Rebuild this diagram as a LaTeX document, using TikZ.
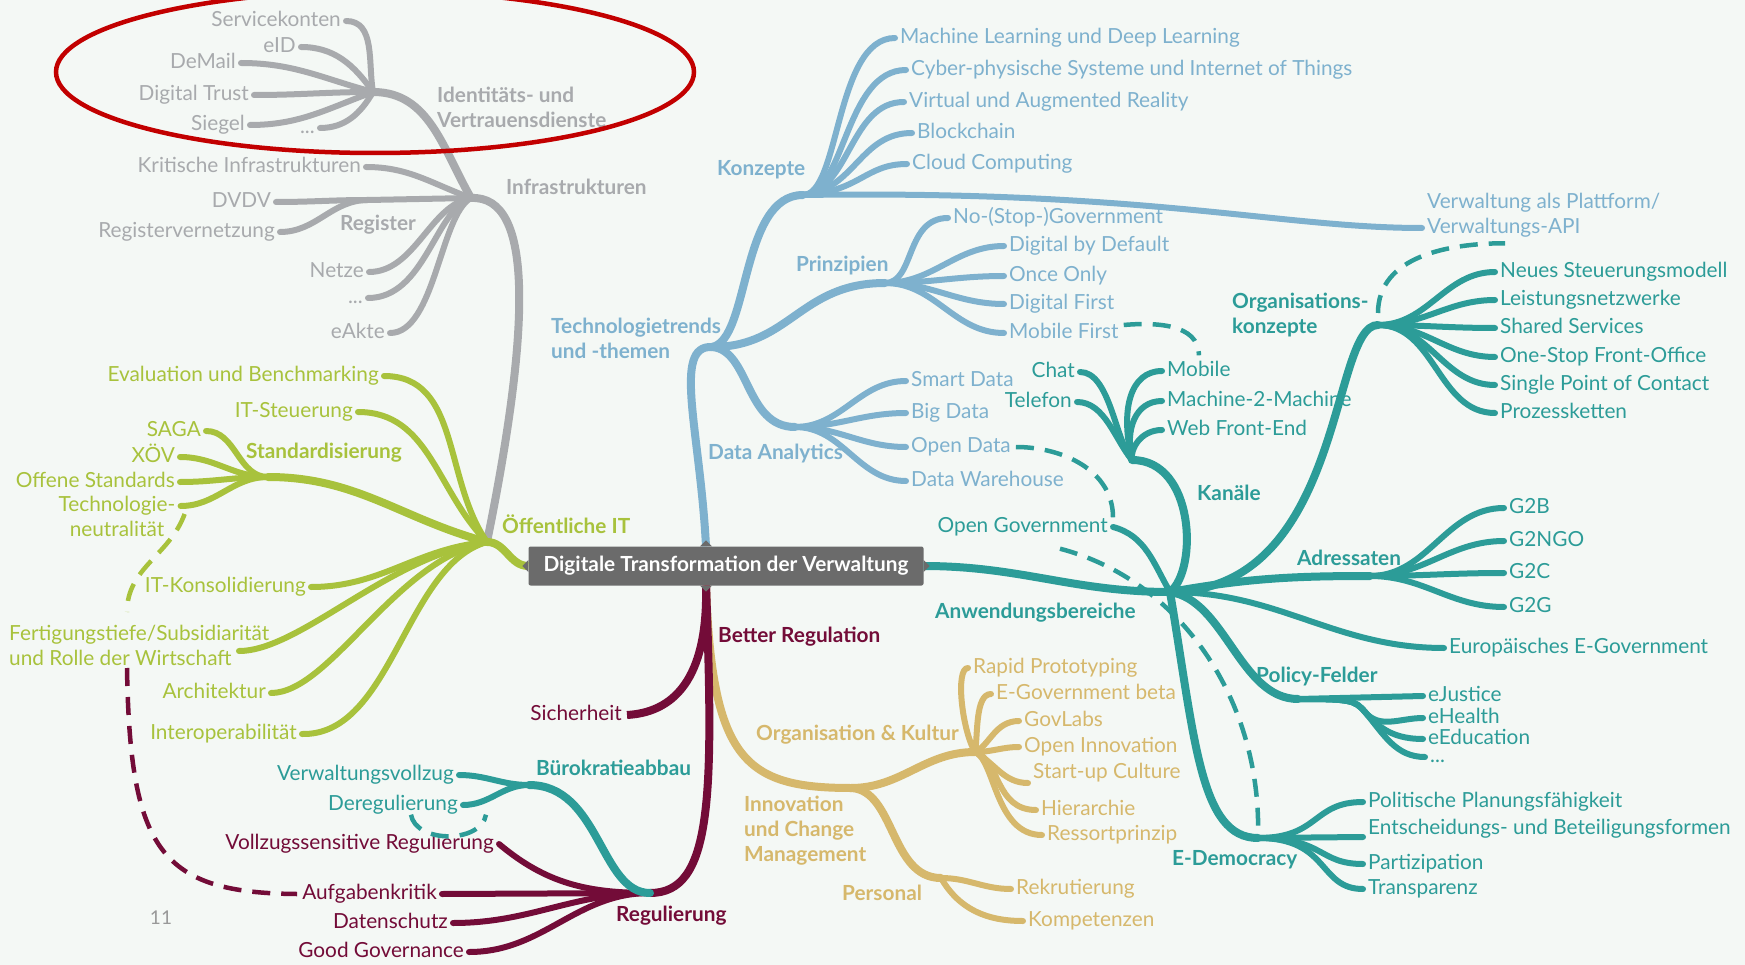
\documentclass[tikz,border=0pt]{standalone}
\usepackage{fontspec}
\setmainfont{Lato}
\usetikzlibrary{calc}
\definecolor{mint}{HTML}{F4F8F5}
\definecolor{mmgrey}{HTML}{A8AAAD}
\definecolor{mmgreen}{HTML}{A8C23C}
\definecolor{mmblue}{HTML}{7EB1CE}
\definecolor{mmteal}{HTML}{2C9C98}
\definecolor{mmmaroon}{HTML}{730C38}
\definecolor{mmgold}{HTML}{D6B86C}
\definecolor{boxgrey}{HTML}{6B6B6B}
\definecolor{ringred}{HTML}{C20000}
\newcommand{\leaffont}{\fontsize{20.8}{25}\selectfont}
\tikzset{
    % Nodes
    leaf/.style={font=\leaffont, inner xsep=5pt, inner ysep=0pt, text height=15pt, text depth=4pt},
    leaflines/.style={font=\leaffont, inner xsep=5pt, inner ysep=0pt, align=left},
    topic/.style={font=\leaffont\bfseries, inner sep=0pt, align=left},
    centre box/.style={fill=boxgrey, text=white, font=\leaffont\bfseries, minimum width=395pt, minimum height=39pt, rounded corners=2pt, inner sep=0pt},
    %
    % Branches
    branch/.style={line width=6pt, line cap=round},
    trunk/.style={line width=8pt, line cap=round},
    link/.style={line width=4.5pt, dash pattern=on 18pt off 11pt},
    ring/.style={ringred, line width=4.5pt}
}

\begin{document}
\begin{tikzpicture}[x=1pt, y=1pt]
    \fill[mint] (0,0) rectangle (1745,-965);
    \useasboundingbox (0,0) rectangle (1745,-965);

    % junctions
    \coordinate (idj) at (373,-92);
    \coordinate (infj) at (471,-198);
    \coordinate (regj) at (368,-200);
    \coordinate (oitj) at (487,-542);
    \coordinate (stdj) at (268,-477);
    \coordinate (techj) at (712,-347);
    \coordinate (konzj) at (803,-195);
    \coordinate (prinj) at (885,-283);
    \coordinate (daj) at (795,-427);
    \coordinate (anwj) at (1170,-592);
    \coordinate (kanj) at (1132,-460);
    \coordinate (orgj) at (1378,-325);
    \coordinate (adrj) at (1370,-576);
    \coordinate (polj) at (1298,-699);
    \coordinate (edemj) at (1258,-838);
    \coordinate (reguj) at (650,-893);
    \coordinate (burj) at (529,-785);
    \coordinate (icmj) at (851,-788);
    \coordinate (okj) at (975,-752);
    \coordinate (persj) at (941,-878);

    \node[centre box] (dtv) at (726,-566) {Digitale Transformation der Verwaltung};
    \coordinate (dtvtop) at ($(dtv.north)+(-20,0)$);
    \coordinate (dtvbot) at ($(dtv.south)+(-20,0)$);

    % Infrastrukturen
    \begin{scope}[mmgrey]
        \node[leaf, anchor=east] (servkont) at (346,-21) {Servicekonten};
        \node[leaf, anchor=east] (eid) at (301,-47) {eID};
        \node[leaf, anchor=east] (demail) at (241,-63) {DeMail};
        \node[leaf, anchor=east] (dtrust) at (254,-95) {Digital Trust};
        \node[leaf, anchor=east] (siegel) at (250,-125) {Siegel};
        \node[leaf, anchor=east] (iddots) at (320,-128) {...};
        \node[topic, anchor=west] (identlbl) at (437,-107) {Identitäts- und\\Vertrauensdienste};
        \node[leaf, anchor=east] (kritinf) at (366,-167) {Kritische Infrastrukturen};
        \node[leaf, anchor=east] (dvdv) at (276,-202) {DVDV};
        \node[leaf, anchor=east] (regvern) at (280,-232) {Registervernetzung};
        \node[topic, anchor=west] (reglbl) at (340,-225) {Register};
        \node[leaf, anchor=east] (netze) at (369,-272) {Netze};
        \node[leaf, anchor=east] (infdots) at (368,-298) {...};
        \node[leaf, anchor=east] (eakte) at (390,-333) {eAkte};
        \node[topic, anchor=west] (inflbl) at (506,-187) {Infrastrukturen};
        \draw[branch] (idj) to[out=100,in=0] (servkont.east);
        \draw[branch] (idj) to[out=125,in=0] (eid.east);
        \draw[branch] (idj) to[out=165,in=0] (demail.east);
        \draw[branch] (idj) to[out=180,in=0] (dtrust.east);
        \draw[branch] (idj) to[out=200,in=0] (siegel.east);
        \draw[branch] (idj) to[out=240,in=0] (iddots.east);
        \draw[branch] (infj) to[out=160,in=0] (kritinf.east);
        \draw[branch] (infj) -- (regj);
        \draw[branch] (regj) to[out=180,in=0] (dvdv.east);
        \draw[branch] (regj) to[out=180,in=0] (regvern.east);
        \draw[branch] (infj) .. controls (430,-205) and (415,-272) .. (netze.east);
        \draw[branch] (infj) .. controls (435,-210) and (425,-298) .. (infdots.east);
        \draw[branch] (infj) .. controls (440,-215) and (435,-333) .. (eakte.east);
        \draw[trunk] (idj) to[out=0,in=120] (infj);
        \draw[trunk] (oitj) .. controls (530,-330) and (535,-195) .. (infj);
    \end{scope}

    % Oeffentliche IT
    \begin{scope}[mmgreen]
        \node[topic, anchor=west] (oitlbl) at (502,-524) {Öffentliche IT};
        \node[leaf, anchor=east] (evalb) at (384,-376) {Evaluation und Benchmarking};
        \node[leaf, anchor=east] (itst) at (358,-412) {IT-Steuerung};
        \node[topic, anchor=west] (stdlbl) at (246,-453) {Standardisierung};
        \node[leaf, anchor=east] (saga) at (206,-431) {SAGA};
        \node[leaf, anchor=east] (xoev) at (180,-457) {XÖV};
        \node[leaf, anchor=east] (offstd) at (180,-482) {Offene Standards};
        \node[leaflines, align=center, anchor=north] (techneu) at (117,-496) {Technologie-\\neutralität};
        \node[leaf, anchor=east] (itkons) at (311,-587) {IT-Konsolidierung};
        \node[leaflines, anchor=west] (fertig) at (4,-645) {Fertigungstiefe/Subsidiarität\\und Rolle der Wirtschaft};
        \node[leaf, anchor=east] (archi) at (271,-693) {Architektur};
        \node[leaf, anchor=east] (interop) at (302,-734) {Interoperabilität};
        \draw[trunk, line cap=butt] (oitj) to[out=0,in=180] (dtv.west);
        \draw[branch] (oitj) to[out=125,in=0] (evalb.east);
        \draw[branch] (oitj) to[out=135,in=0] (itst.east);
        \draw[trunk] (oitj) to[out=165,in=0] (stdj);
        \draw[branch] (stdj) to[out=180,in=0] (saga.east);
        \draw[branch] (stdj) to[out=180,in=0] (xoev.east);
        \draw[branch] (stdj) to[out=180,in=0] (offstd.east);
        \draw[branch] (stdj) to[out=180,in=0] ($(techneu.north east)+(0,-10)$);
        \draw[branch] (oitj) to[out=185,in=0] (itkons.east);
        \draw[branch] (oitj) .. controls (390,-555) and (300,-651) .. ($(fertig.west)+(235,-6)$);
        \draw[branch] (oitj) .. controls (395,-560) and (330,-693) .. (archi.east);
        \draw[branch] (oitj) .. controls (405,-565) and (392,-736) .. (interop.east);
        \coordinate (dashg) at (127,-612);
        \draw[link] ($(techneu.north east)+(4,-18)$) to[out=250,in=90] (dashg);
    \end{scope}

    % Technologietrends
    \begin{scope}[mmblue]
        \node[topic, anchor=west] (techlbl) at (551,-338) {Technologietrends\\und -themen};
        \node[topic, anchor=west] (konzlbl) at (717,-170) {Konzepte};
        \node[leaf, anchor=west] (ml) at (895,-38) {Machine Learning und Deep Learning};
        \node[leaf, anchor=west] (cps) at (906,-70) {Cyber-physische Systeme und Internet of Things};
        \node[leaf, anchor=west] (vr) at (904,-102) {Virtual und Augmented Reality};
        \node[leaf, anchor=west] (bc) at (912,-133) {Blockchain};
        \node[leaf, anchor=west] (cc) at (907,-164) {Cloud Computing};
        \node[leaflines, anchor=west] (plat) at (1422,-215) {Verwaltung als Plattform/\\Verwaltungs-API};
        \node[topic, anchor=west] (prinlbl) at (796,-266) {Prinzipien};
        \node[leaf, anchor=west] (nostop) at (948,-218) {No-(Stop-)Government};
        \node[leaf, anchor=west] (dbd) at (1004,-246) {Digital by Default};
        \node[leaf, anchor=west] (once) at (1004,-276) {Once Only};
        \node[leaf, anchor=west] (dfirst) at (1004,-304) {Digital First};
        \node[leaf, anchor=west] (mfirst) at (1004,-333) {Mobile First};
        \node[topic, anchor=west] (dalbl) at (708,-454) {Data Analytics};
        \node[leaf, anchor=west] (smart) at (906,-381) {Smart Data};
        \node[leaf, anchor=west] (big) at (906,-413) {Big Data};
        \node[leaf, anchor=west] (odata) at (906,-447) {Open Data};
        \node[leaf, anchor=west] (dwh) at (906,-481) {Data Warehouse};
        \draw[trunk, line cap=butt] (dtvtop) .. controls (700,-430) and (672,-345) .. (techj);
        \draw[trunk] (techj) .. controls (750,-340) and (740,-195) .. (konzj);
        \draw[branch] (konzj) .. controls (840,-195) and (835,-38) .. (ml.west);
        \draw[branch] (konzj) .. controls (845,-195) and (845,-70) .. (cps.west);
        \draw[branch] (konzj) .. controls (850,-190) and (850,-102) .. (vr.west);
        \draw[branch] (konzj) .. controls (855,-190) and (860,-133) .. (bc.west);
        \draw[branch] (konzj) .. controls (860,-192) and (865,-164) .. (cc.west);
        \draw[branch] (konzj) .. controls (1150,-190) and (1280,-228) .. ([yshift=-13pt]plat.west);
        \draw[trunk] (techj) .. controls (790,-347) and (800,-283) .. (prinj);
        \draw[branch] (prinj) .. controls (915,-283) and (905,-218) .. (nostop.west);
        \foreach \n in {dbd,once,dfirst,mfirst}
            \draw[branch] (prinj) to[out=0,in=180] (\n.west);
        \draw[trunk] (techj) .. controls (750,-350) and (745,-427) .. (daj);
        \foreach \n in {smart,big,odata,dwh}
            \draw[branch] (daj) to[out=0,in=180] (\n.west);
    \end{scope}

    % Anwendungsbereiche
    \begin{scope}[mmteal]
        \node[topic, anchor=west] (anwlbl) at (935,-613) {Anwendungsbereiche};
        \node[topic, anchor=west] (kanlbl) at (1197,-493) {Kanäle};
        \node[leaf, anchor=east] (chat) at (1080,-372) {Chat};
        \node[leaf, anchor=east] (tel) at (1077,-402) {Telefon};
        \node[leaf, anchor=west] (mobile) at (1162,-371) {Mobile};
        \node[leaf, anchor=west] (m2m) at (1162,-401) {Machine-2-Machine};
        \node[leaf, anchor=west] (web) at (1162,-430) {Web Front-End};
        \node[leaf, anchor=east] (opengov) at (1113,-527) {Open Government};
        \node[topic, anchor=west] (orglbl) at (1232,-315) {Organisations-\\konzepte};
        \node[leaf, anchor=west] (nsm) at (1495,-272) {Neues Steuerungsmodell};
        \node[leaf, anchor=west] (lnw) at (1495,-300) {Leistungsnetzwerke};
        \node[leaf, anchor=west] (shsv) at (1495,-328) {Shared Services};
        \node[leaf, anchor=west] (osfo) at (1495,-357) {One-Stop Front-Office};
        \node[leaf, anchor=west] (spoc) at (1495,-385) {Single Point of Contact};
        \node[leaf, anchor=west] (prozk) at (1495,-413) {Prozessketten};
        \node[topic, anchor=west] (adrlbl) at (1297,-558) {Adressaten};
        \node[leaf, anchor=west] (gb) at (1504,-508) {G2B};
        \node[leaf, anchor=west] (gngo) at (1504,-541) {G2NGO};
        \node[leaf, anchor=west] (gc) at (1504,-573) {G2C};
        \node[leaf, anchor=west] (gg) at (1504,-607) {G2G};
        \node[leaf, anchor=west] (eugov) at (1444,-648) {Europäisches E-Government};
        \node[topic, anchor=west] (pollbl) at (1256,-677) {Policy-Felder};
        \node[leaf, anchor=west] (ejust) at (1423,-696) {eJustice};
        \node[leaf, anchor=west] (ehealth) at (1423,-718) {eHealth};
        \node[leaf, anchor=west] (eedu) at (1423,-739) {eEducation};
        \node[leaf, anchor=west] (poldots) at (1425,-757) {...};
        \node[topic, anchor=west] (edemlbl) at (1172,-860) {E-Democracy};
        \node[leaf, anchor=west] (ppf) at (1363,-802) {Politische Planungsfähigkeit};
        \node[leaf, anchor=west] (ebf) at (1363,-829) {Entscheidungs- und Beteiligungsformen};
        \node[leaf, anchor=west] (part) at (1363,-864) {Partizipation};
        \node[leaf, anchor=west] (transp) at (1363,-889) {Transparenz};
        \draw[link] (odata.east) to[out=0,in=90] (opengov.north east);
        \draw[link] ($(opengov.south east)+(-53,-12)$) .. controls (1180,-580) and (1262,-700) .. (edemj);
        \draw[link] ([yshift=8pt]mfirst.east) to[out=5,in=90] ([yshift=6pt]mobile.north);
        \draw[link] ([yshift=12pt]orgj) to[out=90,in=180] ($(plat.south west)+(83,-6)$);
        \draw[trunk, line cap=butt] (dtv.east) to[out=0,in=180] (anwj);
        \draw[trunk] (anwj) .. controls (1198,-570) and (1195,-460) .. (kanj);
        \draw[branch] (kanj) .. controls (1115,-440) and (1110,-372) .. (chat.east);
        \draw[branch] (kanj) .. controls (1115,-440) and (1105,-402) .. (tel.east);
        \draw[branch] (kanj) .. controls (1120,-410) and (1130,-371) .. (mobile.west);
        \draw[branch] (kanj) .. controls (1125,-430) and (1135,-401) .. (m2m.west);
        \draw[branch] (kanj) .. controls (1130,-450) and (1140,-430) .. (web.west);
        \draw[branch] (anwj) to[out=120,in=-15] (opengov.east);
        \draw[trunk] (anwj) .. controls (1345,-590) and (1330,-325) .. (orgj);
        \foreach \n in {nsm,lnw,shsv,osfo,spoc,prozk}
            \draw[branch] (orgj) to[out=0,in=180] (\n.west);
        \draw[trunk] (anwj) to[out=10,in=180] (adrj);
        \foreach \n in {gb,gngo,gc,gg}
            \draw[branch] (adrj) to[out=0,in=180] (\n.west);
        \draw[branch] (anwj) to[out=0,in=180] (eugov.west);
        \draw[trunk] (anwj) .. controls (1225,-600) and (1240,-699) .. (polj);
        \draw[branch] (polj) -- (ejust.west);
        \foreach \n in {ehealth,eedu,poldots}
            \draw[branch] (polj) .. controls (1350,-699) and (1355,-700) .. (1365,-712) to[out=-50,in=180] (\n.west);
        \draw[trunk] (anwj) .. controls (1195,-740) and (1200,-838) .. (edemj);
        \draw[branch] (edemj) .. controls (1320,-838) and (1312,-802) .. (ppf.west);
        \draw[branch] (edemj) -- ([yshift=-8pt]ebf.west);
        \draw[branch] (edemj) .. controls (1325,-838) and (1318,-864) .. (part.west);
        \draw[branch] (edemj) .. controls (1330,-838) and (1318,-889) .. (transp.west);
    \end{scope}

    % Innovation und Change Management
    \begin{scope}[mmgold]
        \node[topic, anchor=west] (icmlbl) at (744,-831) {Innovation\\und Change\\Management};
        \node[topic, anchor=west] (oklbl) at (756,-735) {Organisation \& Kultur};
        \node[leaf, anchor=west] (rapid) at (968,-668) {Rapid Prototyping};
        \node[leaf, anchor=west] (egovb) at (991,-694) {E-Government beta};
        \node[leaf, anchor=west] (govlabs) at (1019,-721) {GovLabs};
        \node[leaf, anchor=west] (openinn) at (1019,-747) {Open Innovation};
        \node[leaf, anchor=west] (startup) at (1028,-773) {Start-up Culture};
        \node[leaf, anchor=west] (hier) at (1036,-810) {Hierarchie};
        \node[leaf, anchor=west] (ressort) at (1042,-835) {Ressortprinzip};
        \node[topic, anchor=west] (perslbl) at (842,-893) {Personal};
        \node[leaf, anchor=west] (rekr) at (1011,-889) {Rekrutierung};
        \node[leaf, anchor=west] (komp) at (1023,-921) {Kompetenzen};
        \draw[trunk, line cap=butt] (dtvbot) .. controls (712,-760) and (745,-788) .. (icmj);
        \draw[trunk] (icmj) to[out=0,in=180] (okj);
        \draw[branch] (okj) .. controls (962,-730) and (955,-668) .. (rapid.west);
        \draw[branch] (okj) .. controls (978,-735) and (975,-694) .. (egovb.west);
        \draw[branch] (okj) .. controls (990,-745) and (995,-721) .. (govlabs.west);
        \draw[branch] (okj) to[out=0,in=180] (openinn.west);
        \draw[branch] (okj) to[out=-30,in=180] ([yshift=-10pt]startup.west);
        \draw[branch] (okj) .. controls (1000,-760) and (995,-810) .. (hier.west);
        \draw[branch] (okj) .. controls (995,-760) and (995,-835) .. (ressort.west);
        \draw[trunk] (icmj) .. controls (895,-790) and (890,-878) .. (persj);
        \draw[branch] (persj) to[out=0,in=180] (rekr.west);
        \draw[branch] (persj) to[out=-60,in=180] (komp.west);
    \end{scope}

    % Better Regulation
    \begin{scope}[mmmaroon]
        \coordinate (dashm) at (127,-668);
        \node[topic, anchor=west] (brlbl) at (718,-637) {Better Regulation};
        \node[leaf, anchor=east] (sicher) at (627,-715) {Sicherheit};
        \node[topic, anchor=west] (regulbl) at (616,-916) {Regulierung};
        \node[leaf, anchor=east] (vollz) at (499,-844) {Vollzugssensitive Regulierung};
        \node[leaf, anchor=east] (aufg) at (442,-894) {Aufgabenkritik};
        \node[leaf, anchor=east] (daten) at (453,-923) {Datenschutz};
        \node[leaf, anchor=east] (goodgov) at (469,-952) {Good Governance};
        \draw[link] (dashm) .. controls (130,-850) and (160,-893) .. (aufg.west);
        \draw[trunk, line cap=butt] (dtvbot) .. controls (708,-670) and (680,-712) .. (sicher.east);
        \draw[trunk, line cap=butt] (dtvbot) .. controls (714,-800) and (712,-893) .. (reguj);
        \draw[branch] (reguj) -- (aufg.east);
        \draw[branch] (reguj) to[out=180,in=0] (daten.east);
        \draw[branch] (reguj) to[out=180,in=0] (goodgov.east);
        \draw[branch] (reguj) to[out=180,in=-40] (vollz.east);
    \end{scope}

    % Buerokratieabbau
    \begin{scope}[mmteal]
        \node[topic, anchor=west] (burlbl) at (536,-768) {Bürokratieabbau};
        \node[leaf, anchor=east] (verwv) at (459,-775) {Verwaltungsvollzug};
        \node[leaf, anchor=east] (dereg) at (463,-805) {Deregulierung};
        \draw[trunk] (reguj) .. controls (600,-893) and (600,-785) .. (burj);
        \draw[branch] (burj) to[out=180,in=0] (verwv.east);
        \draw[branch] (burj) to[out=180,in=0] (dereg.east);
        \draw[link] ($(dereg.south)+(18,0)$) to[out=-80,in=-100] ($(dereg.south east)+(23,0)$);
    \end{scope}

    % box pointers
    \fill[boxgrey] ($(dtvtop)+(-6,0)$) -- ++(6,6) -- ++(6,-6) -- cycle;
    \fill[boxgrey] ($(dtvbot)+(-6,0)$) -- ++(6,-6) -- ++(6,6) -- cycle;
    \fill[boxgrey] ($(dtv.west)+(0,6)$) -- ++(-6,-6) -- ++(6,-6) -- cycle;
    \fill[boxgrey] ($(dtv.east)+(0,6)$) -- ++(6,-6) -- ++(-6,-6) -- cycle;

    \node[font=\fontsize{19}{22}\selectfont, text=gray!80] (pagenum) at (161,-918) {11};

    \draw[ring] (375,-72) ellipse[x radius=319, y radius=81];
\end{tikzpicture}
\end{document}
